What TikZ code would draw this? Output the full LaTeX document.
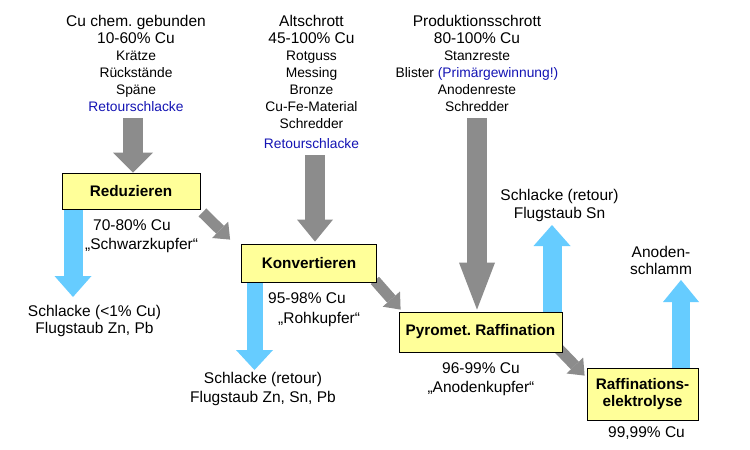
\documentclass[tikz,border=0pt]{standalone}
\usepackage{fontspec}
\setmainfont{Liberation Sans}
\usetikzlibrary{arrows.meta}
\definecolor{boxyellow}{HTML}{FFFF99}
\definecolor{arrgray}{HTML}{8C8C8C}
\definecolor{arrblue}{HTML}{66CCFF}
\definecolor{txtblue}{HTML}{1414B4}
\newcommand{\bigf}{\fontsize{15.5}{17}\selectfont}
\newcommand{\smallf}{\fontsize{13.8}{17}\selectfont}
\pgfdeclarelayer{bg}
\pgfsetlayers{bg,main}
\frenchspacing
\begin{document}
\begin{tikzpicture}[x=1pt,y=-1pt,
  proc/.style={draw=black, line width=0.8pt, fill=boxyellow, font=\fontsize{15.3}{17.5}\selectfont\bfseries, align=center, inner sep=0pt},
  txt/.style={inner sep=0pt, align=center, font=\bigf},
  arr/.style n args={4}{draw=#1, line width=#2, -{Triangle[width=#3, length=#4, line width=0pt]}}
]
\useasboundingbox (0,0) rectangle (750,450);

% source texts
\node[txt, anchor=north] (src1) at (136,15) {Cu chem. gebunden\\10-60\% Cu\\{\smallf Krätze}\\{\smallf Rückstände}\\{\smallf Späne}\\{\smallf\color{txtblue}Retourschlacke}};
\node[txt, anchor=north] (src2) at (311.5,15) {Altschrott\\45-100\% Cu\\{\smallf Rotguss}\\{\smallf Messing}\\{\smallf Bronze}\\{\smallf Cu-Fe-Material}\\{\smallf Schredder}\\[3pt]{\smallf\color{txtblue}Retourschlacke}};
\node[txt, anchor=north] (src3) at (477,15) {Produktionsschrott\\80-100\% Cu\\{\smallf Stanzreste}\\{\smallf Blister {\color{txtblue}(Primärgewinnung!)}}\\{\smallf Anodenreste}\\{\smallf Schredder}};

% process boxes
\node[proc, minimum width=138pt, minimum height=36pt] (red) at (131,191) {Reduzieren};
\node[proc, minimum width=135pt, minimum height=38pt] (konv) at (309,263) {Konvertieren};
\node[proc, minimum width=163pt, minimum height=40pt] (pyro) at (480.5,332) {Pyromet. Raffination};
\node[proc, minimum width=111pt, minimum height=52pt] (elek) at (642.5,394) {Raffinations-\\elektrolyse};

% product texts
\node[txt, anchor=north west, align=left] (prod1) at (85,219) {\hspace*{8pt}70-80\% Cu\\[2pt]„Schwarzkupfer“};
\node[txt, anchor=north west, align=left] (prod2) at (268,292) {95-98\% Cu\\[3pt]\hspace*{10pt}„Rohkupfer“};
\node[txt, anchor=north] (prod3) at (481,362) {96-99\% Cu\\[2pt]„Anodenkupfer“};
\node[txt, anchor=base] (prod4) at (646.5,437) {99,99\% Cu};

% residue texts
\node[txt, anchor=north] (res1) at (94.5,304.7) {Schlacke (<1\% Cu)\\Flugstaub Zn, Pb};
\node[txt, anchor=north] (res2) at (263,371.7) {Schlacke (retour)\\[2pt]Flugstaub Zn, Sn, Pb};
\node[txt, anchor=north] (res3) at (559.5,188.7) {Schlacke (retour)\\[1pt]Flugstaub Sn};
\node[txt, anchor=north] (res4) at (661,245.7) {Anoden-\\schlamm};

% free ends
\coordinate (g1s) at (133,118);
\coordinate (g2s) at (315,155);
\coordinate (g3s) at (477,118);
\coordinate (b1e) at (73,297);
\coordinate (b2e) at (254.5,370);
\coordinate (b3e) at (552,225);
\coordinate (b4e) at (681,280);

\begin{pgfonlayer}{bg}
\fill[white] (0,0) rectangle (750,450);
% gray input arrows
\draw[arr={arrgray}{20pt}{40pt}{20pt}] (g1s) -- (g1s |- red.north);
\draw[arr={arrgray}{20pt}{36pt}{22pt}] (g2s) -- ([yshift=2pt]g2s |- konv.north);
\draw[arr={arrgray}{20pt}{36pt}{47pt}] (g3s) -- ([yshift=2pt]g3s |- pyro.north);
% gray diagonal arrows
\draw[arr={arrgray}{11pt}{23pt}{14pt}] ([shift={(2pt,-3pt)}]red.south east) -- ([shift={(-11pt,4pt)}]konv.north west);
\draw[arr={arrgray}{11pt}{23pt}{14pt}] ([shift={(-2pt,2pt)}]konv.south east) -- ([shift={(2pt,2pt)}]pyro.north west);
\draw[arr={arrgray}{11pt}{23pt}{14pt}] ([shift={(-4pt,4pt)}]pyro.south east) -- ([shift={(-2pt,-8pt)}]elek.north west);
% blue residue arrows
\draw[arr={arrblue}{19pt}{37pt}{21pt}] ([xshift=-58pt]red.south) -- (b1e);
\draw[arr={arrblue}{16pt}{37pt}{20pt}] ([xshift=-54.5pt]konv.south) -- (b2e);
\draw[arr={arrblue}{19pt}{37pt}{21pt}] ([xshift=71.5pt]pyro.north) -- (b3e);
\draw[arr={arrblue}{18pt}{36pt}{22pt}] ([xshift=38.5pt]elek.north) -- (b4e);
\end{pgfonlayer}
\end{tikzpicture}
\end{document}
